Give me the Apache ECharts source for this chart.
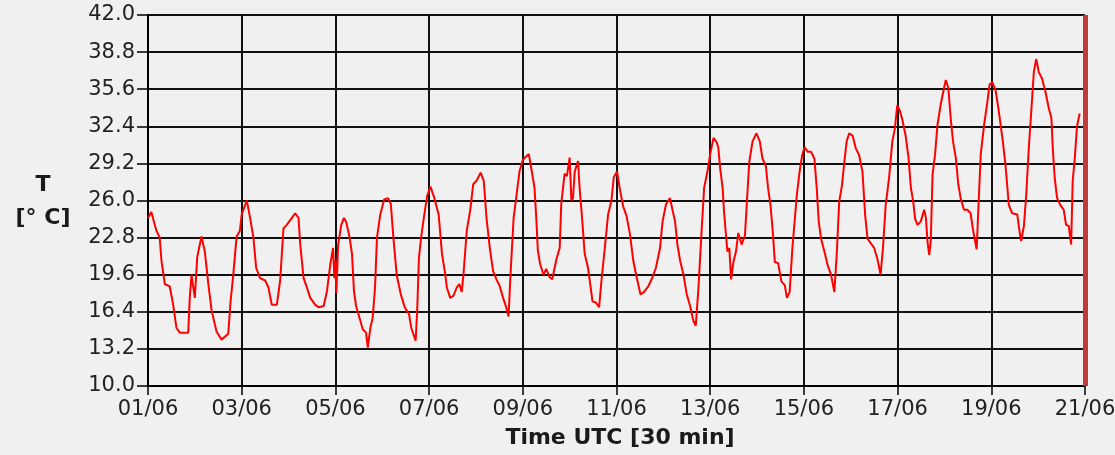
<!DOCTYPE html>
<html><head><meta charset="utf-8">
<script src="https://cdn.jsdelivr.net/npm/echarts@6/dist/echarts.min.js"></script>
<style>html,body{margin:0;padding:0;background:#f0f0f0}#c{width:1115px;height:455px}</style>
</head><body><div id="c"></div><script>
// hours since 01/06 00:00 UTC
const hours = [0,1.7,2.6,4.3,6,6.9,8.6,11.1,12.9,14.6,16.3,20.6,21.4,22.3,24,25.2,27.4,29.1,30.9,32.6,35.1,37.7,41.1,42.3,43.7,45.4,47.1,48,50.6,52.3,54,55.4,57.4,60,61.7,63.4,66,67.7,69.4,71.1,73.7,75.4,77.1,78,79.7,81.4,83.1,85.7,87.4,90,91.7,93.4,94.8,95.5,96,96.5,97.4,99,100.4,101.6,103.3,104.5,105.5,106.6,108.3,110,111.7,112.6,113.9,115.1,116.3,117.3,119,121,123,124.4,125.7,127.4,129.5,131.5,133.7,134.9,137.1,137.9,138.8,140,141.3,143,144.7,146.7,148.9,150.6,152.3,153.1,154.8,156.5,158.2,159.5,160.7,161.6,163.3,165,166.6,168.3,170.4,172,173.4,175.1,176.8,178.5,180.2,181.9,183.5,184.7,185.7,187.3,188.6,190.3,192,193.7,195.1,196.3,198,198.9,199.7,200.9,202.6,204,205.7,207.1,208.3,209.5,210.9,211.7,213.4,214.6,216,216.9,217.7,218.6,220.3,221.1,222.5,223.7,225.4,226.3,227.7,229.4,231.1,232.3,234,235.7,237.4,238.6,240.3,241.7,243.4,245.1,246.9,248.6,250.3,252.3,254,256.3,258.5,260.2,262.3,263.6,265.4,267.4,268.8,270,271.2,272.6,274.3,276,277.7,279.4,280.6,282,283.7,284.9,286.6,288,289.7,291.4,292.2,293.1,294.4,295.1,296.1,296.8,297.8,298.7,299.9,301.2,302.4,304.1,305.8,306.7,308,309.7,311.7,313.4,314.8,316.5,317.7,318.9,320.2,321.1,322.8,324.5,326.2,327.3,328.7,330.1,331.2,332.4,333.8,335.1,336.3,338,339.7,341.4,342.6,343.6,344.8,346.5,348.2,349.9,351.6,352.8,354.1,355.5,356.7,357.9,359.2,360.9,362.6,364.3,366,367.4,368.6,370.3,372,373.6,375.3,376.5,377.9,379.6,381.3,382.6,383.8,385,386.4,388.1,389.6,390.8,392,393,394.2,395.9,397.6,398.5,399.3,400.2,401,401.9,403.2,404.4,406.1,407.8,408.7,410,411.2,412.4,413.8,415.1,416.3,418,419.7,421.4,422.6,423.7,424.5,425.4,426.6,428.3,430,431.1,432.5,434.2,435.6,436.8,437.9,439.3,441,442.7,445.3,446.5,447.3,448.7,449.9,451.2,452.6,453.8,455,456.3,458,459.7,461.4,462.8,463.5,464.5,465.7,467.4,469.1,470.3,471.7,472.9,473.7,474.8,475.9,477.3];
// temperature [°C]
const temps = [24.5,25.0,25.1,23.4,22.8,20.8,18.8,18.6,17.0,15.0,14.6,14.6,17.6,19.6,17.6,21.1,22.9,21.6,18.8,16.5,14.7,14.0,14.5,17.3,19.6,22.9,23.4,24.8,26.0,24.5,22.8,20.2,19.3,19.1,18.5,17.0,17.0,19.1,23.6,23.9,24.5,24.9,24.5,22.2,19.3,18.5,17.6,17.0,16.8,16.9,18.2,20.5,21.9,19.3,20.8,18.0,22.2,23.9,24.5,24.1,22.8,21.4,18.2,16.9,15.9,14.9,14.6,13.3,15.0,15.9,18.5,22.8,24.8,26.1,26.2,25.7,22.8,19.6,17.9,16.8,16.2,15.0,13.9,16.5,21.1,22.9,24.5,26.4,27.2,26.2,24.8,21.4,19.6,18.5,17.6,17.8,18.5,18.8,18.1,19.6,23.4,25.1,27.4,27.7,28.4,27.7,24.5,21.9,19.9,19.2,18.6,17.6,16.8,16.0,19.6,24.5,26.2,28.5,29.5,29.8,30.0,28.8,27.1,24.5,21.7,20.5,19.6,20.1,19.4,19.2,20.2,21.1,21.9,25.7,28.3,28.1,29.7,26.0,26.2,28.5,29.4,27.1,24.2,21.4,20.2,19.1,17.3,17.2,16.8,19.1,21.9,24.8,26.0,28.0,28.5,27.0,25.5,24.7,23.1,20.8,19.4,17.9,18.1,18.6,19.4,20.2,21.9,24.2,25.7,26.2,25.1,24.2,22.2,20.8,19.6,17.9,16.9,15.6,15.2,18.5,23.7,27.1,28.5,30.0,31.4,31.0,30.5,28.8,27.0,25.0,23.0,21.6,21.9,19.2,20.7,21.6,23.2,22.2,23.0,25.6,29.3,31.1,31.8,31.1,29.6,29.0,27.0,25.6,23.0,20.7,20.6,19.0,18.7,17.6,18.1,21.9,24.1,26.5,28.5,29.9,30.6,30.2,30.2,29.6,27.0,24.2,22.7,21.6,20.4,19.6,18.1,21.3,25.9,27.3,29.3,31.1,31.8,31.6,30.5,29.9,28.5,24.7,22.7,22.3,21.9,21.0,19.6,21.9,25.6,27.9,31.1,32.2,34.2,33.8,33.0,31.6,29.7,27.1,25.9,24.4,23.9,24.2,25.2,24.5,22.5,21.3,22.5,28.2,30.0,32.5,34.3,35.7,36.4,35.7,33.1,31.1,29.7,27.4,26.2,25.2,25.2,24.9,23.5,22.5,21.8,25.4,30.0,32.5,34.5,36.0,36.2,35.5,34.0,32.5,31.1,29.0,25.6,24.9,24.8,23.3,22.5,23.8,26.5,30.5,34.0,37.1,38.2,37.1,36.5,35.4,34.0,33.1,30.5,27.9,26.2,25.6,25.2,23.9,23.8,22.2,27.7,29.7,32.4,33.5];
const dateLabels = ['01/06','03/06','05/06','07/06','09/06','11/06','13/06','15/06','17/06','19/06','21/06'];
const yMin = 10.0, yMax = 42.0, yStep = 3.2;
const endHour = 480;

const points = hours.map((h, i) => [h, temps[i]]);
const FONT = 'DejaVu Sans';
const chart = echarts.init(document.getElementById('c'), null, {renderer: 'canvas'});
chart.setOption({
  backgroundColor: '#f0f0f0',
  animation: false,
  grid: {left: 148, right: 30, top: 15, bottom: 69, containLabel: false, outerBoundsMode: 'none'},
  xAxis: {
    type: 'value', min: 0, max: endHour, interval: 48,
    axisLine: {show: true, onZero: false, lineStyle: {color: '#000', width: 2}},
    axisTick: {show: true, length: 9, lineStyle: {color: '#000', width: 1.5}},
    axisLabel: {color: '#222', fontFamily: FONT, fontSize: 21, margin: 13,
      formatter: v => dateLabels[Math.round(v / 48)] || ''},
    splitLine: {show: true, lineStyle: {color: '#111', width: 2}}
  },
  yAxis: {
    type: 'value', min: yMin, max: yMax, interval: yStep,
    axisLine: {show: true, lineStyle: {color: '#000', width: 2}},
    axisTick: {show: true, length: 11, lineStyle: {color: '#000', width: 1.5}},
    axisLabel: {color: '#222', fontFamily: FONT, fontSize: 21, margin: 13,
      formatter: v => v.toFixed(1)},
    splitLine: {show: true, lineStyle: {color: '#111', width: 2}}
  },
  graphic: [
    {type: 'text', left: 'center', top: 0, style: {text: ''}},
    {type: 'text', x: 43, y: 185, style: {text: 'T', fontFamily: FONT, fontWeight: 'bold', fontSize: 22, fill: '#1a1a1a', align: 'center', verticalAlign: 'middle'}},
    {type: 'text', x: 43, y: 218, style: {text: '[° C]', fontFamily: FONT, fontWeight: 'bold', fontSize: 22, fill: '#1a1a1a', align: 'center', verticalAlign: 'middle'}},
    {type: 'text', x: 620, y: 438, style: {text: 'Time UTC [30 min]', fontFamily: FONT, fontWeight: 'bold', fontSize: 22, fill: '#1a1a1a', align: 'center', verticalAlign: 'middle'}}
  ],
  series: [{
    type: 'line', data: points, showSymbol: false, symbol: 'none',
    lineStyle: {color: '#ff0000', width: 2}, z: 3,
    markLine: {silent: true, symbol: 'none', label: {show: false},
      lineStyle: {color: '#c0393b', width: 5, type: 'solid'},
      data: [{xAxis: endHour}]}
  }]
});
</script></body></html>
